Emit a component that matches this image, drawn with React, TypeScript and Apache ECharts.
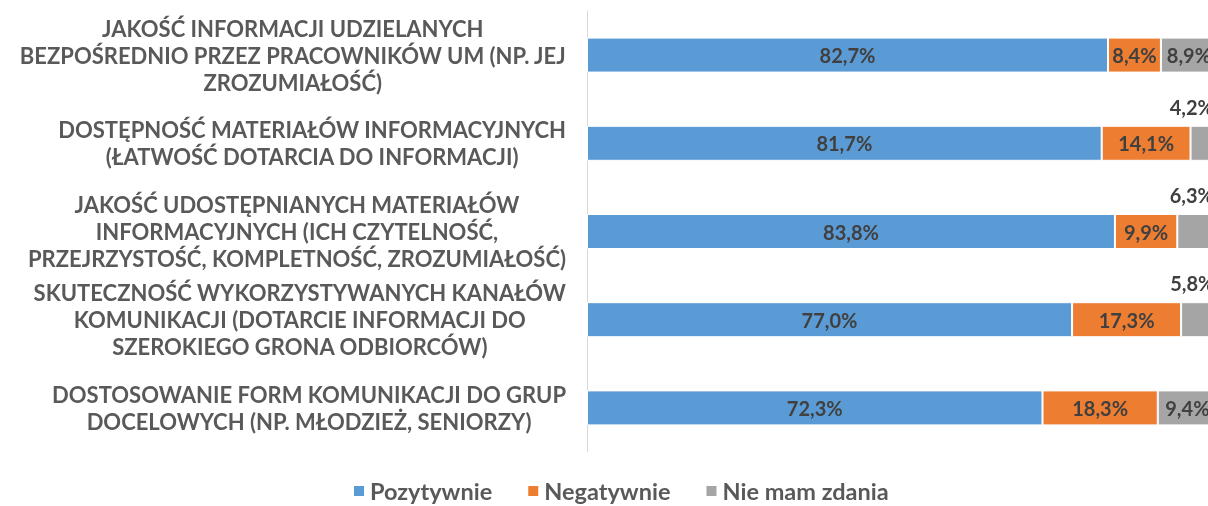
import React, { useEffect, useRef } from "react";
import * as echarts from "echarts";

const categories = [
  "JAKOŚĆ INFORMACJI UDZIELANYCH\nBEZPOŚREDNIO PRZEZ PRACOWNIKÓW UM (NP. JEJ\nZROZUMIAŁOŚĆ)",
  "DOSTĘPNOŚĆ MATERIAŁÓW INFORMACYJNYCH\n(ŁATWOŚĆ DOTARCIA DO INFORMACJI)",
  "JAKOŚĆ UDOSTĘPNIANYCH MATERIAŁÓW\nINFORMACYJNYCH (ICH CZYTELNOŚĆ,\nPRZEJRZYSTOŚĆ, KOMPLETNOŚĆ, ZROZUMIAŁOŚĆ)",
  "SKUTECZNOŚĆ WYKORZYSTYWANYCH KANAŁÓW\nKOMUNIKACJI (DOTARCIE INFORMACJI DO\nSZEROKIEGO GRONA ODBIORCÓW)",
  "DOSTOSOWANIE FORM KOMUNIKACJI DO GRUP\nDOCELOWYCH (NP. MŁODZIEŻ, SENIORZY)",
];
const positive = [82.7, 81.7, 83.8, 77.0, 72.3];
const negative = [8.4, 14.1, 9.9, 17.3, 18.3];
const noOpinion = [8.9, 4.2, 6.3, 5.8, 9.4];
const seriesNames = ["Pozytywnie", "Negatywnie", "Nie mam zdania"];
const colors = ["#5B9BD5", "#ED7D31", "#A5A5A5"];
// rows whose "Nie mam zdania" label sits above the bar
const labelAboveRows = [1, 2, 3];

const FONT = "Lato, 'Noto Sans', sans-serif";

const fmt = (p: any) => {
  const v = typeof p.value === "number" ? p.value : Number(p.value);
  return v.toFixed(1).replace(".", ",") + "%";
};

const baseLabel = {
  show: true,
  position: "inside",
  formatter: fmt,
  fontFamily: FONT,
  fontWeight: "bold",
  fontSize: 20,
  color: "#404040",
};

export default function App() {
  const ref = useRef<HTMLDivElement>(null);
  useEffect(() => {
    if (!ref.current) return;
    const chart = echarts.init(ref.current, undefined, { renderer: "svg" });
    const values = [positive, negative, noOpinion];
    chart.setOption({
      animation: false,
      color: colors,
      grid: { left: 587, top: 11, width: 630, height: 441 },
      xAxis: {
        type: "value",
        min: 0,
        max: 100,
        show: false,
        splitLine: { show: false },
      },
      yAxis: {
        type: "category",
        inverse: true,
        data: categories,
        axisLine: { show: true, lineStyle: { color: "#D9D9D9", width: 1 } },
        axisTick: { show: false },
        axisLabel: {
          interval: 0,
          margin: 21,
          align: "right",
          formatter: (v: string) =>
            v
              .split("\n")
              .map((l) => `{c|${l}}`)
              .join("\n"),
          rich: {
            c: {
              align: "center",
              fontFamily: FONT,
              fontWeight: "bold",
              fontSize: 22,
              color: "#595959",
              lineHeight: 27,
            },
          },
        },
      },
      legend: {
        data: seriesNames,
        left: 347,
        top: 474,
        icon: "rect",
        itemWidth: 12,
        itemHeight: 12,
        itemGap: 34,
        textStyle: {
          fontFamily: FONT,
          fontWeight: "bold",
          fontSize: 23.5,
          color: "#595959",
        },
      },
      series: seriesNames.map((name, si) => ({
        name,
        type: "bar",
        stack: "total",
        barWidth: 35,
        itemStyle: { color: colors[si], borderColor: "#ffffff", borderWidth: 1 },
        label: baseLabel,
        data: values[si].map((v, i) =>
          si === 2 && labelAboveRows.includes(i)
            ? {
                value: v,
                label: {
                  ...baseLabel,
                  position: ["100%", 0],
                  align: "right",
                  verticalAlign: "bottom",
                  offset: [-3, -9],
                },
              }
            : v
        ),
      })),
    });
    return () => chart.dispose();
  }, []);
  return (
    <div
      style={{
        position: "fixed",
        left: 0,
        top: 0,
        width: 1208,
        height: 506,
        overflow: "hidden",
      }}
    >
      <div ref={ref} style={{ width: 1230, height: 506 }} />
    </div>
  );
}
